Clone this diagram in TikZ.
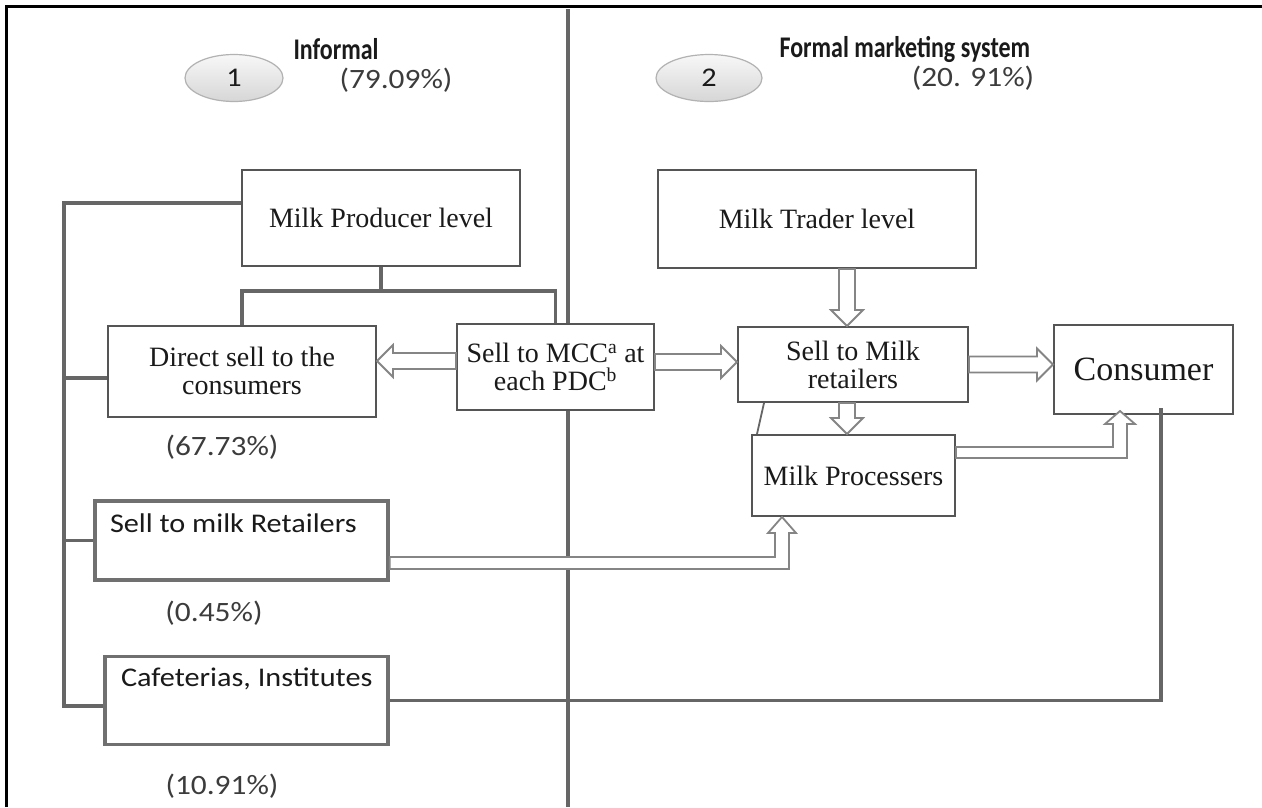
\documentclass[tikz,border=0pt]{standalone}
\usepackage{fontspec}
\setmainfont{Liberation Serif}
\newfontfamily\calib[FakeStretch=1.12]{Carlito}
\newfontfamily\calibc[FakeStretch=0.8]{Carlito}
\usetikzlibrary{calc,shapes.geometric}
\definecolor{linegray}{HTML}{666666}
\definecolor{boxgray}{HTML}{555555}
\definecolor{tboxgray}{HTML}{707070}
\definecolor{arrgray}{HTML}{858585}
\definecolor{txt}{HTML}{1A1A1A}
\newcommand\myblockarrow[2]{%
  \coordinate (bA) at (#1);
  \coordinate (bB) at (#2);
  \coordinate (bC) at ($(bB)!16pt!(bA)$);
  \draw[barrow] ($(bA)!8pt!90:(bB)$) -- ($(bC)!8pt!90:(bB)$) -- ($(bC)!16pt!90:(bB)$)
    -- (bB) -- ($(bC)!16pt!-90:(bB)$) -- ($(bC)!8pt!-90:(bB)$) -- ($(bA)!8pt!-90:(bB)$) -- cycle;}
\tikzset{
  sbox/.style={draw=boxgray, line width=2pt, fill=white, rectangle, inner sep=2pt,
    align=center, text=txt, font=\fontsize{28}{28}\selectfont},
  tbox/.style={draw=tboxgray, line width=3.4pt, fill=white, rectangle, inner ysep=4pt,
    text=txt, font=\calib\fontsize{27}{28}\selectfont},
  conn/.style={draw=linegray, line width=3.2pt},
  thinconn/.style={draw=linegray, line width=1.8pt},
  barrow/.style={draw=arrgray, line width=1.8pt, fill=white, line join=miter},
  ell/.style={ellipse, draw=gray!60, line width=1.2pt, top color=gray!6, bottom color=gray!32,
    text=txt, font=\calib\fontsize{27}{28}\selectfont},
  pct/.style={text=txt!85, font=\calib\fontsize{28}{30}\selectfont},
  ttl/.style={text=txt, font=\calibc\bfseries\fontsize{30}{30}\selectfont},
}
\begin{document}
\begin{tikzpicture}[x=1pt,y=-1pt]
\useasboundingbox (0,0) rectangle (1262,807);
\fill[white] (0,0) rectangle (1262,807);
% frame
\draw[black, line width=3pt] (6,807) -- (6,6) -- (1262,6);
% divider
\draw[conn] (568,9) -- (568,807);
% header
\node[ell, minimum width=98pt, minimum height=47pt] (e1) at (234,78) {1};
\node[ell, minimum width=106pt, minimum height=47pt] (e2) at (709,78) {2};
\node[ttl, anchor=west] (t1) at (290,49) {Informal};
\node[ttl, anchor=west] (t2) at (776,49) {Formal marketing system};
\node[pct] (p0) at (396,80) {(79.09\%)};
\node[pct] (p00) at (973,78) {(20. 91\%)};
% boxes
\node[sbox, minimum width=278pt, minimum height=96pt] (prod) at (381,218) {Milk Producer level};
\node[sbox, minimum width=268pt, minimum height=91pt] (direct) at (242,371) {Direct sell to the\\consumers};
\node[sbox, minimum width=197pt, minimum height=86pt] (mcc) at (555.5,367) {Sell to MCC\textsuperscript{a} at\\each PDC\textsuperscript{b}};
\node[sbox, minimum width=318pt, minimum height=98pt] (trader) at (817,219) {Milk Trader level};
\node[sbox, minimum width=230pt, minimum height=75pt] (ret) at (853,364.5) {Sell to Milk\\retailers};
\node[sbox, minimum width=179pt, minimum height=89pt, font=\fontsize{34}{34}\selectfont] (cons) at (1143.5,369.5) {Consumer};
\node[sbox, minimum width=203pt, minimum height=81pt] (proc) at (853.5,475.5) {Milk Processers};
\node[tbox, inner xsep=15pt, text height=27pt, text depth=44pt] (r2) at (241.5,540.5) {\makebox[263pt][l]{Sell to milk Retailers}};
\node[tbox, inner xsep=16pt, text height=26pt, text depth=54pt] (caf) at (246.5,700.5) {\makebox[251pt][l]{Cafeterias, Institutes}};
% percentages
\node[pct] (p1) at (222,447) {(67.73\%)};
\node[pct] (p2) at (214,613) {(0.45\%)};
\node[pct] (p3) at (222,786) {(10.91\%)};
% left bus
\coordinate (bustop) at (64,203);
\coordinate (busbot) at (64,706);
\draw[conn] (prod.west |- bustop) -- (bustop) -- (busbot) -- (caf.west |- busbot);
\draw[conn] ([yshift=-7pt]direct.west) -- ([yshift=-7pt]direct.west -| bustop);
\draw[conn] (r2.west) -- (r2.west -| bustop);
% producer tree
\coordinate (split) at (prod.south |- 0,291);
\draw[conn] (prod.south) -- (split);
\draw[conn] (direct.north) -- (direct.north |- split) -- (mcc.north |- split) -- (mcc.north);
% cafeteria to consumer
\coordinate (cx) at (1161,0);
\draw[conn] (caf.east) -- (caf.east -| cx) -- ([yshift=7pt]cons.south -| cx);
% retailers to processers thin line
\draw[thinconn] ([xshift=27pt]ret.south west) -- ([xshift=6pt]proc.north west);
% block arrows
\coordinate (a1s) at ([yshift=6pt]mcc.west);
\myblockarrow{a1s}{direct.east |- a1s}
\coordinate (a2s) at ([yshift=5pt]mcc.east);
\myblockarrow{a2s}{ret.west |- a2s}
\coordinate (a3s) at (trader.south -| 847,0);
\myblockarrow{a3s}{ret.north -| a3s}
\coordinate (a4s) at ([yshift=0pt]ret.east);
\myblockarrow{a4s}{cons.west |- a4s}
\coordinate (a5s) at (ret.south -| 847,0);
\myblockarrow{a5s}{proc.north -| a5s}
% elbow arrow processers -> consumer
\draw[barrow] (proc.east |- 0,447) -- (1113,447) -- (1113,424) -- (1105,424) -- ([yshift=4pt]cons.south -| 1120,0)
  -- (1135,424) -- (1127,424) -- (1127,458) -- (proc.east |- 0,458) -- cycle;
% elbow arrow sell to milk retailers -> processers
\draw[barrow] (r2.east |- 0,557) -- (775,557) -- (775,533) -- (768,533) -- (proc.south -| 782,0)
  -- (796,533) -- (789,533) -- (789,569) -- (r2.east |- 0,569) -- cycle;
\end{tikzpicture}
\end{document}
